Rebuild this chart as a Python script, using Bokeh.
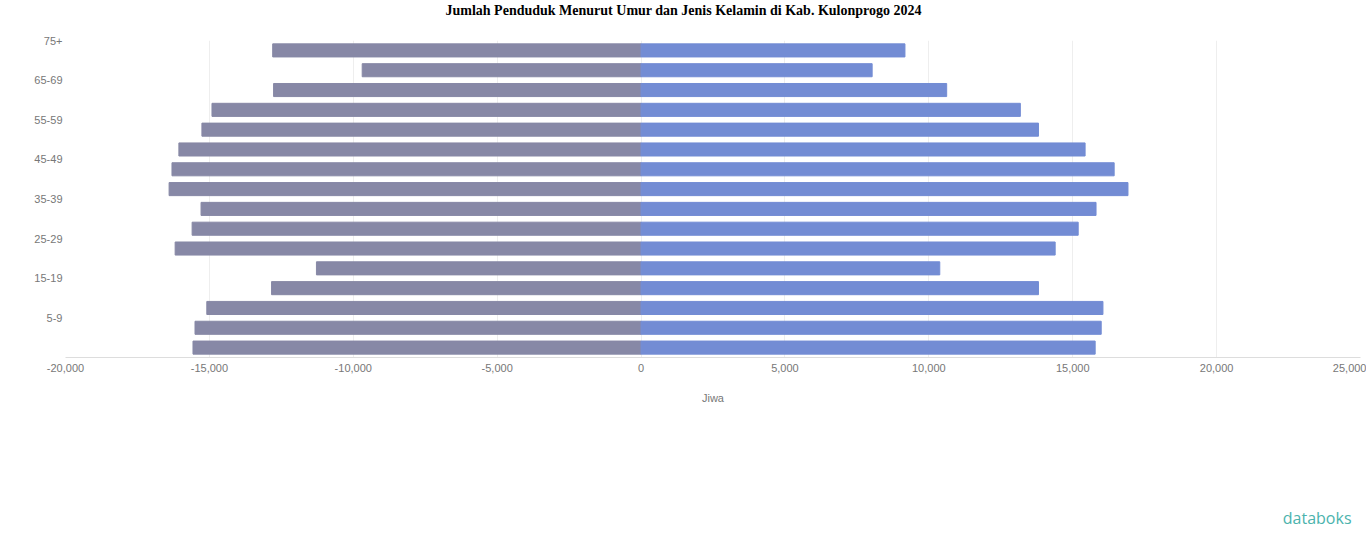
from bokeh.plotting import figure
from bokeh.models import FixedTicker, NumeralTickFormatter, Title, ColumnDataSource
from bokeh.embed import file_html
from bokeh.resources import INLINE

# Data (bottom to top)
age_groups = ["0-4", "5-9", "10-14", "15-19", "20-24", "25-29", "30-34", "35-39",
              "40-44", "45-49", "50-54", "55-59", "60-64", "65-69", "70-74", "75+"]
male = [15570, 15500, 15090, 12840, 11280, 16190, 15600, 15290,
        16400, 16300, 16060, 15260, 14910, 12770, 9690, 12800]
female = [15780, 15990, 16050, 13810, 10380, 14390, 15190, 15810,
          16920, 16440, 15430, 13810, 13180, 10620, 8030, 9170]
x_ticks = [-20000, -15000, -10000, -5000, 0, 5000, 10000, 15000, 20000, 25000]
title_text = "Jumlah Penduduk Menurut Umur dan Jenis Kelamin di Kab. Kulonprogo 2024"

idx = list(range(len(age_groups)))
src = ColumnDataSource(dict(
    y=idx,
    male_left=[-v for v in male],
    zero=[0] * len(idx),
    female=female,
))

p = figure(width=1366, height=547, output_backend="svg", toolbar_location=None,
           x_range=(-20000, 25000), y_range=(-0.5, 15.5), title=None,
           min_border_left=65, min_border_right=6, min_border_top=10, min_border_bottom=10)

# above: spacer (next to frame) then main title
p.add_layout(Title(text=" ", text_font_size="19px", standoff=0), "above")
p.add_layout(Title(text=title_text, text_font="Liberation Serif", text_font_size="14px",
                   text_font_style="bold", text_color="#000000", align="left", offset=380,
                   standoff=0), "above")

p.hbar(y="y", left="male_left", right="zero", height=0.66, color="#8788a6", source=src)
p.hbar(y="y", left="zero", right="female", height=0.66, color="#738cd4", source=src)

p.xaxis.ticker = FixedTicker(ticks=x_ticks)
p.xaxis.formatter = NumeralTickFormatter(format="0,0")
p.xaxis.axis_line_color = "#dddddd"
p.xaxis.major_tick_line_color = None
p.xaxis.minor_tick_line_color = None
p.xaxis.major_tick_out = 0
p.xaxis.major_tick_in = 0
p.xaxis.major_label_text_font = "Liberation Sans"
p.xaxis.major_label_text_font_size = "11px"
p.xaxis.major_label_text_color = "#777777"
p.xaxis.major_label_standoff = 6
p.xaxis.axis_label = "Jiwa"
p.xaxis.axis_label_text_font = "Liberation Sans"
p.xaxis.axis_label_text_font_size = "11px"
p.xaxis.axis_label_text_font_style = "normal"
p.xaxis.axis_label_text_color = "#777777"
p.xaxis.axis_label_standoff = 17

# below: spacer, logo text, bottom spacer
p.add_layout(Title(text=" ", text_font_size="86px", standoff=0), "below")
p.add_layout(Title(text="databoks", text_font="Open Sans", text_font_size="16px",
                   text_font_style="normal", text_color="#4bb3ad", align="right",
                   offset=9, standoff=0), "below")
p.add_layout(Title(text=" ", text_font_size="15px", standoff=0), "below")

ytick_pos = [i + 0.5 for i in idx if i % 2 == 1]
p.yaxis.ticker = FixedTicker(ticks=ytick_pos)
p.yaxis.major_label_overrides = {i + 0.5: age_groups[i] for i in idx if i % 2 == 1}
p.yaxis.axis_line_color = None
p.yaxis.major_tick_line_color = None
p.yaxis.minor_tick_line_color = None
p.yaxis.major_tick_out = 0
p.yaxis.major_tick_in = 0
p.yaxis.major_label_text_font = "Liberation Sans"
p.yaxis.major_label_text_font_size = "11px"
p.yaxis.major_label_text_color = "#777777"
p.yaxis.major_label_standoff = 3

p.xgrid.ticker = FixedTicker(ticks=x_ticks)
p.xgrid.grid_line_color = "#eeeeee"
p.ygrid.grid_line_color = None
p.outline_line_color = None
p.background_fill_color = "#ffffff"
p.border_fill_color = "#ffffff"

open("out.html", "w").write(file_html(p, INLINE))
